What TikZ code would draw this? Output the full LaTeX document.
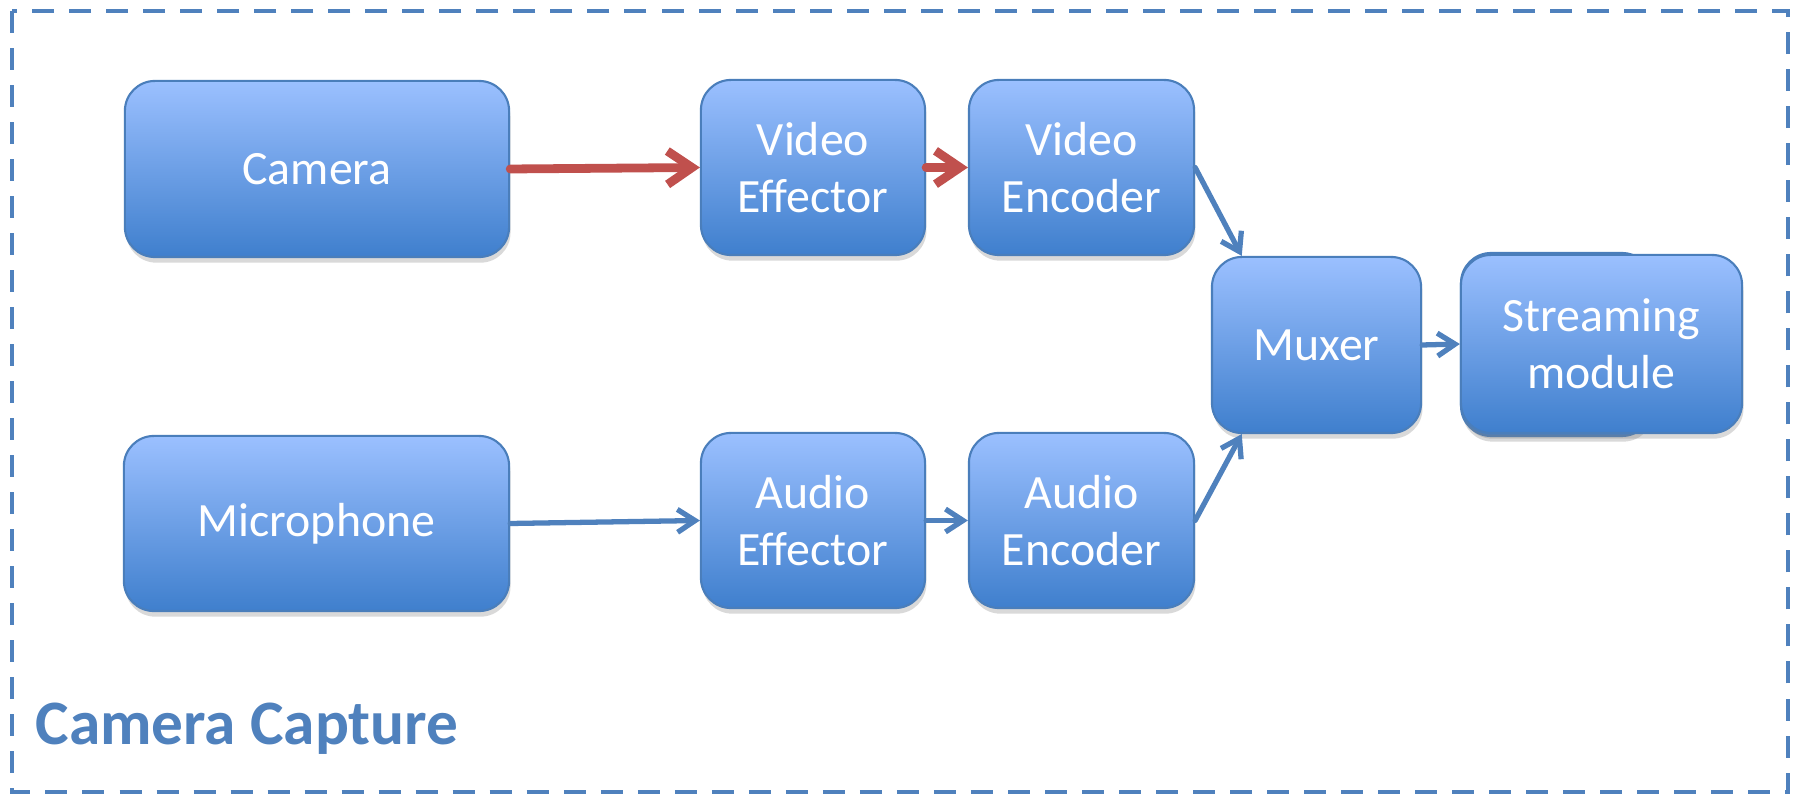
\documentclass[tikz,border=0pt]{standalone}
\usepackage{fontspec}
\setmainfont{Carlito}
\usetikzlibrary{arrows.meta,shadows}
\definecolor{boxtop}{HTML}{9BC0FF}
\definecolor{boxbot}{HTML}{3F7FCD}
\definecolor{boxline}{HTML}{4A7EBB}
\definecolor{flowblue}{HTML}{4F81BD}
\definecolor{flowred}{HTML}{C0504D}
\begin{document}
\begin{tikzpicture}[x=0.01cm, y=-0.01cm,
  box/.style={draw=boxline, line width=0.6pt, rounded corners=0.3cm,
    top color=boxtop, bottom color=boxbot, text=white, align=center,
    font=\fontsize{13.6}{16.2}\selectfont,
    drop shadow={shadow xshift=0.4pt, shadow yshift=-1.6pt, opacity=0.3}},
  flow/.style={draw=flowblue, line width=1.5pt, line cap=round,
    -{Straight Barb[length=5pt, width=6.5pt, line width=1.5pt]}},
  hot/.style={draw=flowred, line width=2.5pt, line cap=round,
    -{Straight Barb[length=7pt, width=9.5pt, line width=2.5pt]}}]
\useasboundingbox (0,0) rectangle (1800,795);
\draw[flowblue, line width=1.4pt, dash pattern=on 0.22cm off 0.15cm] (12,11) rectangle (1788,792);
\node[anchor=base west, inner sep=0pt, text=flowblue, font=\fontsize{18}{21}\selectfont\bfseries] (title) at (35,745) {Camera Capture};
% video path
\node[box, minimum width=3.84cm, minimum height=1.76cm] (cam) at (317,169) {Camera};
\node[box, minimum width=2.24cm, minimum height=1.75cm] (vfx) at (813,167.5) {Video\\Effector};
\draw[hot] (cam.east) -- (vfx.west);
\node[box, minimum width=2.25cm, minimum height=1.75cm] (venc) at (1081.5,167.5) {Video\\Encoder};
\draw[hot] (vfx.east) -- (venc.west);
% audio path
\node[box, minimum width=3.85cm, minimum height=1.75cm] (mic) at (316.5,523.5) {Microphone};
\node[box, minimum width=2.24cm, minimum height=1.75cm] (afx) at (813,520.5) {Audio\\Effector};
\draw[flow] (mic.east) -- (afx.west);
\node[box, minimum width=2.25cm, minimum height=1.75cm] (aenc) at (1081.5,520.5) {Audio\\Encoder};
\draw[flow] (afx.east) -- (aenc.west);
% mux and output
\node[box, minimum width=2.09cm, minimum height=1.76cm] (mux) at (1316.5,345) {Muxer};
\draw[flow] (venc.east) -- (mux.130);
\draw[flow] (aenc.east) -- (mux.230);
\path[box] (1461,253) rectangle (1652,436);
\node[box, minimum width=2.81cm, minimum height=1.78cm] (strm) at (1601.5,344) {Streaming\\module};
\draw[flow] (mux.east) -- (strm.west);
\end{tikzpicture}
\end{document}
